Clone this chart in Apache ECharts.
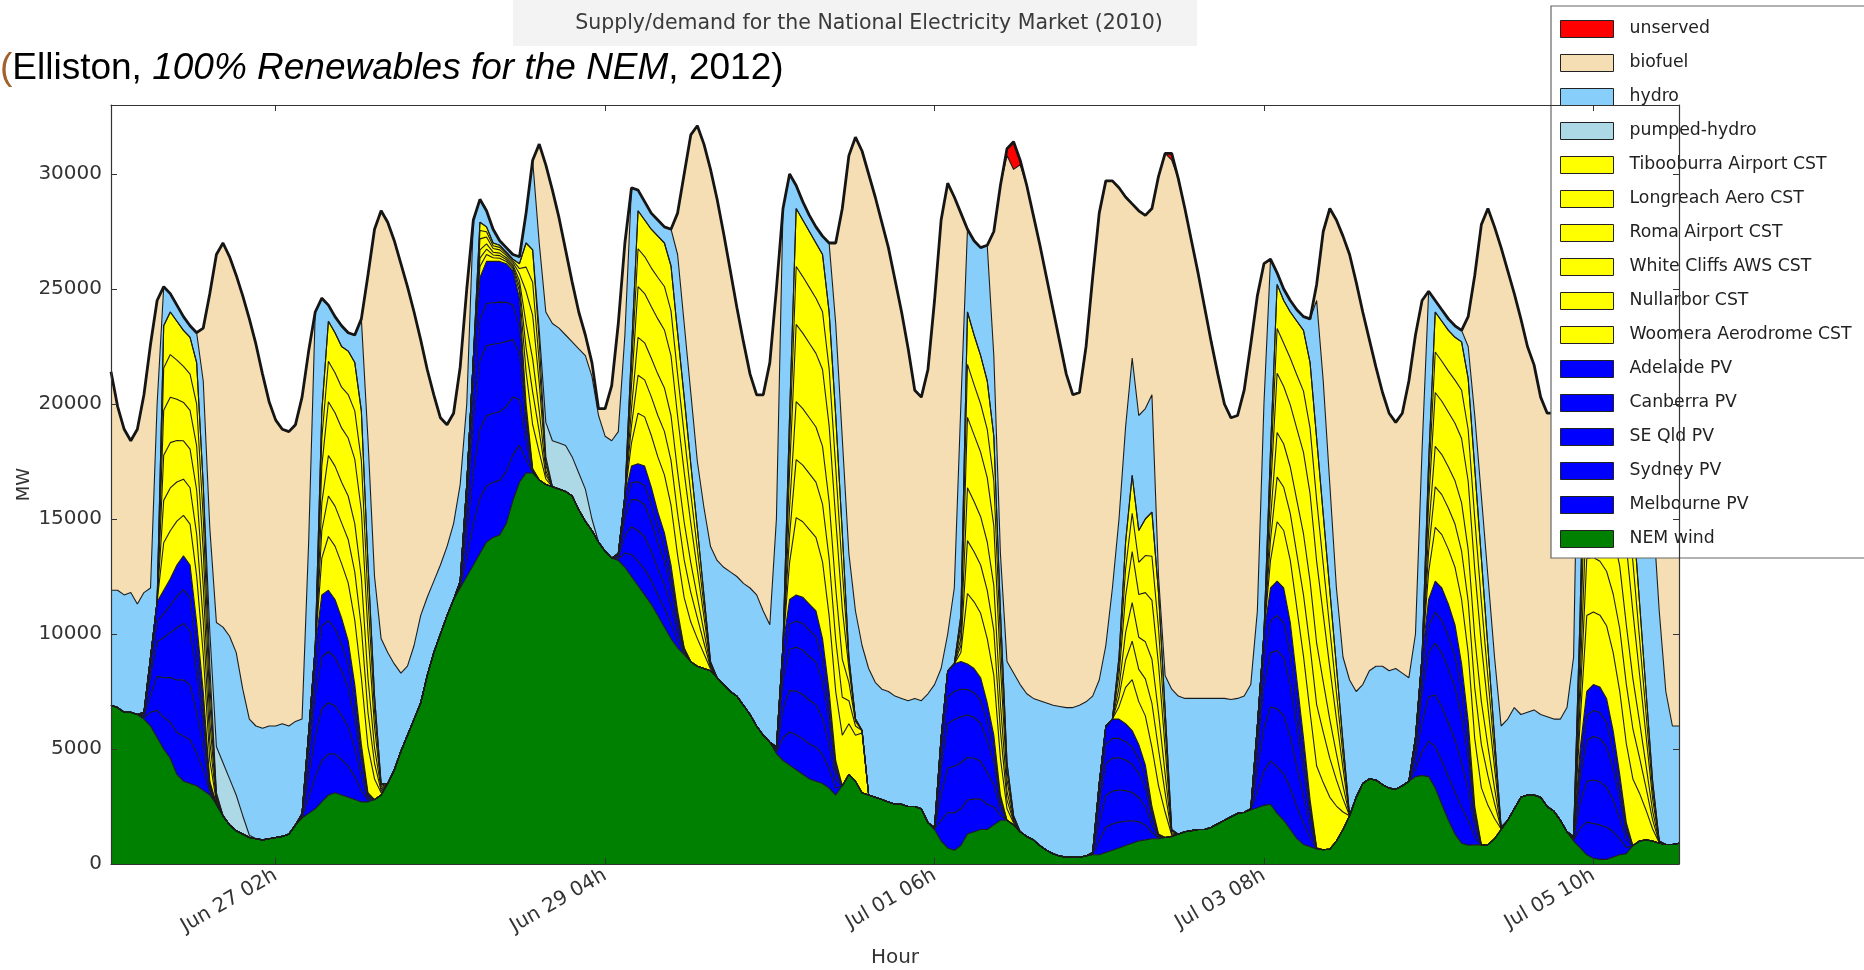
<!DOCTYPE html>
<html><head><meta charset="utf-8">
<script src="https://cdn.jsdelivr.net/npm/echarts@6/dist/echarts.min.js"></script>
<style>html,body{margin:0;padding:0;background:#fff}#c{width:1864px;height:970px}</style>
</head><body><div id="c"></div>
<script>
// ---- x axis ticks (hour index 0 = Jun 26 01h) ----
const tickHours = [25, 75, 125, 175, 225];
const tickLabels = ['Jun 27 02h', 'Jun 29 04h', 'Jul 01 06h', 'Jul 03 08h', 'Jul 05 10h'];

// ---- hourly series (MW) ----
const demand = [
21400,19900,18900,18400,18900,20400,22600,24500,25100,24800,24300,23800,23400,23100,23300,24800,26500,27000,26400,25600,24700,23700,22600,21300,
20100,19300,18900,18800,19100,20300,22300,24000,24600,24300,23800,23400,23100,23000,23700,25600,27600,28400,27900,27100,26100,25100,24000,22800,
21500,20400,19400,19100,19600,21600,25000,28000,28900,28400,27600,27100,26800,26500,26400,28300,30600,31300,30400,29300,28100,26700,25300,24000,
23000,21800,19800,19800,20800,23500,27000,29400,29300,28800,28300,28000,27700,27600,28300,30000,31700,32100,31300,30200,28900,27400,25800,24200,
22700,21300,20400,20400,21800,25000,28500,30000,29500,28800,28200,27700,27300,27000,27000,28500,30800,31600,31000,30000,29000,27900,26800,25400,
24000,22400,20600,20300,21500,24500,28000,29600,29000,28300,27600,27100,26800,26900,27500,29500,31100,31400,30600,29500,28200,26900,25500,24100,
22700,21300,20400,20500,22500,25500,28300,29700,29700,29400,29000,28700,28400,28200,28500,29900,30900,30900,29800,28500,27100,25700,24200,22700,
21300,20000,19400,19500,20600,22600,24700,26100,26300,25700,25000,24500,24100,23800,23700,25200,27500,28500,28000,27300,26500,25300,24000,22800,
21600,20500,19600,19200,19600,21000,23000,24500,24900,24500,24100,23700,23400,23200,23800,25600,27800,28500,27700,26800,25800,24800,23700,22500,
21700,20300,19600,19600,20600,22500,24200,25000,24800,24300,23900,23600,23400,23500,24500,26500,27800,28000,27300,26300,25200,24100,22900];

const nemWind = [
6900,6800,6600,6600,6500,6300,6000,5500,5000,4600,3900,3600,3500,3400,3200,3000,2600,2100,1700,1450,1300,1150,1100,1050,
1100,1150,1200,1300,1700,2000,2200,2400,2700,3000,3100,3000,2900,2800,2700,2700,2800,3000,3500,4100,4900,5600,6300,7000,
8200,9200,10000,10800,11500,12000,12500,13000,13500,14000,14200,14300,14800,15800,16600,17000,17000,16700,16500,16400,16300,16200,16000,15400,
14900,14500,14000,13600,13300,13200,12900,12500,12100,11700,11300,10800,10300,9800,9400,9100,8800,8600,8500,8400,8100,7800,7500,7300,
6900,6500,6000,5600,5300,4800,4500,4300,4100,3900,3700,3600,3500,3300,3000,3400,3900,3600,3100,3000,2900,2800,2700,2600,
2600,2500,2500,2400,1800,1500,1000,700,600,800,1300,1400,1500,1500,1700,1900,1900,1700,1400,1200,1050,800,600,450,
350,300,300,300,350,400,400,500,600,700,800,900,1000,1050,1100,1100,1150,1200,1300,1400,1450,1500,1500,1600,
1750,1900,2050,2200,2250,2350,2450,2550,2600,2200,1900,1500,1100,850,750,650,620,650,1000,1500,2100,2900,3500,3700,
3650,3450,3300,3250,3400,3600,3800,3850,3800,3300,2600,1900,1300,900,820,840,830,840,1100,1500,1900,2400,2900,3000,
3000,2900,2500,2300,1900,1400,1000,700,400,250,200,200,300,400,450,800,1000,1050,1000,900,850,850,900];

const hydro = [
5000,5100,5100,5200,4800,5200,3000,8600,1700,800,700,600,500,1300,4500,4500,5400,5900,6200,6200,5500,5050,4900,4850,
4900,4850,4900,4700,4500,4100,8300,14600,4900,700,700,900,800,1200,4000,5400,5200,6300,5700,4600,3400,3000,3200,3800,
3400,3100,3000,3000,3300,4200,3500,6000,1000,700,600,200,200,200,300,1300,3900,3800,4800,5100,5000,4800,5000,5400,
5800,6200,5500,5000,5100,5300,7000,7100,900,800,700,700,700,1600,3400,3200,3100,2900,3800,5000,5100,5100,5200,5200,
5300,5500,5700,5400,5100,9900,19000,10500,1000,800,700,700,800,3000,4000,4100,4500,4700,3700,5500,5000,4800,4800,4700,
4600,4600,4700,4700,5600,6200,3000,1600,3300,9200,3600,4100,4700,5900,3500,2500,4400,6200,6400,6200,6150,6300,6400,6450,
6500,6500,6500,6600,6700,6800,4500,3500,5700,6000,5000,5100,5000,4800,5100,700,1500,6100,6000,5800,5750,5700,5700,5600,
5450,5300,5100,5000,5050,5400,5000,10000,8300,500,500,500,500,600,1900,6000,5800,4600,3400,3700,5900,4600,4300,4700,
4950,5150,5100,5250,4900,4500,4500,9000,7400,500,500,500,500,500,1400,2300,2700,3100,3500,4400,4400,4400,3600,3600,
3700,3600,3900,4000,4400,5400,7800,14000,800,700,600,600,600,1500,5500,11200,12600,12500,11900,10000,6650,5150,5100];

const biofuel = [
9500,8000,7200,6600,7600,8600,10600,4500,0,0,0,0,0,0,2300,10200,16000,16700,16500,16400,17100,17400,16600,15400,
14100,13300,12800,12800,12900,14000,8300,0,0,0,0,0,0,0,0,7100,15100,18600,18700,18400,17800,16500,14500,12000,
9900,8100,6400,5300,4800,5100,5000,0,0,0,0,0,0,0,0,0,0,4300,6400,5800,4800,3700,2600,1600,
900,600,300,1200,2400,4700,4000,0,0,0,0,0,0,0,1800,6500,11200,14600,15800,16400,15700,14500,13100,11700,
10500,9300,8700,9400,11400,10000,0,0,0,0,0,0,0,0,3500,10000,17300,20600,21500,21500,21100,20300,19300,18100,
16800,15300,13400,13200,14100,16700,19500,19600,17000,8300,0,0,0,0,5400,16000,22000,21900,22600,22100,21000,19800,18500,17200,
15850,14500,13600,13600,15450,18200,20300,20200,17700,14400,10000,6700,8900,8400,8100,17400,22700,23000,22500,21300,19900,18500,17000,15500,
14100,12800,12250,12300,13300,14800,13700,6100,0,0,0,0,0,0,0,700,6500,12000,16000,18300,18500,17800,16200,14400,
13000,11900,11200,10700,11300,12900,13000,6500,0,0,0,0,0,0,1300,6100,11800,16000,18700,20800,19500,18000,17200,15900,
15000,13800,13200,13300,14300,15700,15200,0,0,0,0,0,0,0,0,0,3800,8000,11800,15300,17700,18100,16900];

// ---- sparse series: [first hour, hourly values], zero elsewhere ----
const pumpedHydro = [[15,[1500,2000,2300,2000,1550,800,100]],[65,[500,1500,2000,2000,2000,1700,1600,1400,500]]];
const unserved = [[136,[300,1200,200]],[161,[300]]];

const melbournePV = [
[5,[60,600,1180,1380,1560,1820,1960,1900,1420,880,130]],
[29,[40,700,1400,1800,1780,1680,1540,1360,1000,500,80]],
[53,[60,800,1800,2400,2440,2400,2380,2260,2000,1600,600,40]],
[77,[60,620,960,1060,1120,1020,900,820,640,320,60]],
[101,[60,1000,1440,1520,1540,1520,1480,1260,840,300]],
[125,[20,900,1540,1620,1600,1480,1420,1320,1100,780,220]],
[149,[20,620,1100,1140,1120,1060,980,840,650,280,40]],
[173,[10,710,1490,1880,2020,2020,1800,1380,930,410,10]],
[198,[340,1030,1540,1800,1880,1880,1820,1560,1080,330]],
[222,[40,860,1420,1510,1500,1400,1100,700,270]]];
const sydneyPV = [
[5,[70,750,1480,1720,1950,2280,2450,2380,1780,1080,150]],
[29,[50,880,1750,2250,2230,2100,1930,1700,1250,630,100]],
[53,[80,1000,2250,3000,3050,3000,2980,2830,2500,2000,750,50]],
[77,[80,780,1200,1330,1400,1280,1130,1030,800,400,80]],
[101,[80,1250,1800,1900,1930,1900,1850,1580,1050,380]],
[125,[30,1130,1930,2030,2000,1850,1780,1650,1380,980,280]],
[149,[30,780,1380,1430,1400,1330,1230,1050,810,350,50]],
[173,[10,890,1860,2350,2530,2530,2250,1730,1160,510,10]],
[198,[430,1290,1930,2250,2350,2350,2280,1950,1340,420]],
[222,[50,1080,1780,1890,1880,1750,1380,880,340]]];
const seQldPV = [
[5,[80,800,1500,1750,1950,2270,2450,2350,1720,1000,120]],
[29,[50,880,1750,2250,2230,2100,1930,1700,1250,630,100]],
[53,[80,1000,2250,3000,3050,3000,2980,2830,2500,2000,750,50]],
[77,[80,780,1200,1330,1400,1280,1130,1030,800,400,80]],
[101,[80,1250,1800,1900,1930,1900,1850,1580,1050,380]],
[125,[30,1130,1930,2030,2000,1850,1780,1650,1380,980,280]],
[149,[30,780,1380,1430,1400,1330,1230,1050,810,350,50]],
[173,[10,890,1860,2350,2530,2530,2250,1730,1160,510,10]],
[198,[430,1290,1930,2250,2350,2350,2280,1950,1340,420]],
[222,[50,1080,1780,1890,1880,1750,1380,880,340]]];
const canberraPV = [
[5,[40,450,890,1040,1170,1370,1470,1430,1070,650,90]],
[29,[30,530,1050,1350,1340,1260,1160,1020,750,380,60]],
[53,[40,600,1350,1800,1830,1800,1790,1700,1500,1200,450,30]],
[77,[40,470,720,800,840,770,680,620,480,240,40]],
[101,[40,750,1080,1140,1160,1140,1110,950,630,230]],
[125,[10,680,1160,1220,1200,1110,1070,990,830,590,170]],
[149,[10,470,830,860,840,800,740,630,490,210,30]],
[173,[10,530,1120,1410,1520,1520,1350,1040,700,310,10]],
[198,[250,770,1160,1350,1410,1410,1370,1170,810,250]],
[222,[30,650,1070,1130,1130,1050,830,530,200]]];
const adelaidePV = [
[5,[50,400,850,1010,1170,1360,1470,1440,1110,690,110]],
[29,[30,510,1050,1350,1320,1260,1140,1020,750,360,60]],
[53,[40,600,1350,1800,1830,1800,1770,1680,1500,1200,450,30]],
[77,[40,450,720,780,840,750,660,600,480,240,40]],
[101,[40,750,1080,1140,1140,1140,1110,930,630,210]],
[125,[10,660,1140,1200,1200,1110,1050,990,810,570,150]],
[149,[10,450,810,840,840,780,720,630,490,210,30]],
[173,[10,530,1120,1410,1500,1500,1350,1020,700,310,10]],
[198,[250,770,1140,1350,1410,1410,1350,1170,810,240]],
[222,[30,630,1050,1130,1110,1050,810,510,200]]];

const woomeraCST = [
[8,[2070,2090,1910,1760,1780,2030,1620,900,90]],
[32,[1600,2340,2320,2360,2520,2800,2900,2000,900,100]],
[56,[480,300,160,140,100,100,300,1400,1900,1200,240]],
[79,[1000,2200,2140,2240,2400,2520,2600,2420,2180,1720,1200,640,80]],
[103,[1600,3360,3280,3240,3200,3340,3300,3000,2200,2200,2000,2600]],
[129,[400,3060,2900,2800,2800,2600,1600,500,80]],
[153,[540,1580,2220,1860,2140,2560,2100,1110,60]],
[176,[1200,2580,2500,2700,3120,3540,3800,3560,2920,2250,1520,760]],
[200,[1200,2340,2320,2380,2500,2800,2980,2940,2490,1710,880,20]],
[223,[1200,3300,3160,3120,3160,3400,3620,3440,2900,2080,1290,520,20]]];
const nullarborCST = [
[8,[1840,1860,1700,1570,1580,1810,1440,800,80]],
[32,[1200,1760,1740,1770,1890,2100,2180,1500,680,80]],
[56,[360,230,120,110,80,80,230,1050,1430,900,180]],
[79,[750,1650,1610,1680,1800,1890,1950,1820,1640,1290,900,480,60]],
[103,[1200,2520,2460,2430,2400,2510,2480,2250,1650,1000,400,100]],
[129,[300,2300,2180,2100,2100,1950,1200,380,60]],
[153,[410,1190,1670,1400,1610,1920,1580,830,50]],
[176,[900,1940,1880,2030,2340,2660,2850,2670,2190,1690,1140,570]],
[200,[900,1760,1740,1790,1880,2100,2240,2210,1870,1280,660,20]],
[223,[900,2480,2370,2340,2370,2550,2720,2580,2180,1560,970,390,20]]];
const whiteCliffsCST = [
[8,[1960,1970,1800,1670,1680,1920,1530,850,90]],
[32,[1200,1760,1740,1770,1890,2100,2180,1500,680,80]],
[56,[360,230,120,110,80,80,230,1050,1430,900,180]],
[79,[750,1650,1610,1680,1800,1890,1950,1820,1640,1290,900,480,60]],
[103,[1200,2520,2460,2430,2400,2510,2480,2250,1650,800,200,0]],
[129,[300,2300,2180,2100,2100,1950,1200,380,60]],
[153,[410,1190,1670,1400,1610,1920,1580,830,50]],
[176,[900,1940,1880,2030,2340,2660,2850,2670,2190,1690,1140,570]],
[200,[900,1760,1740,1790,1880,2100,2240,2210,1870,1280,660,20]],
[223,[900,2480,2370,2340,2370,2550,2720,2580,2180,1560,970,390,20]]];
const romaCST = [
[8,[1960,1970,1800,1670,1680,1920,1530,850,80]],
[32,[1600,2340,2320,2360,2520,2800,2900,2000,900,100]],
[56,[480,300,160,140,100,100,300,1400,1900,1200,240]],
[79,[1000,2200,2140,2240,2400,2520,2600,2420,2180,1720,1200,640,80]],
[103,[1600,3360,3280,3240,3200,3340,3300,3000,2200,600,100,0]],
[129,[400,3060,2900,2800,2800,2600,1600,500,80]],
[153,[540,1580,2220,1860,2140,2560,2100,1110,60]],
[176,[1200,2580,2500,2700,3120,3540,3800,3560,2920,2250,1520,760]],
[200,[1200,2340,2320,2380,2500,2800,2980,2940,2490,1710,880,20]],
[223,[1200,3300,3160,3120,3160,3400,3620,3440,2900,2080,1290,520,20]]];
const longreachCST = [
[8,[1840,1860,1700,1570,1580,1810,1440,800,80]],
[32,[1200,1760,1740,1770,1890,2100,2180,1500,680,80]],
[56,[360,230,120,110,80,80,230,1050,1430,900,180]],
[79,[750,1650,1610,1680,1800,1890,1950,1820,1640,1290,900,480,60]],
[103,[1200,2520,2460,2430,2400,2510,2480,2250,1650,300,0,0]],
[129,[300,2300,2180,2100,2100,1950,1200,380,60]],
[153,[410,1190,1670,1400,1610,1920,1580,830,50]],
[176,[900,1940,1880,2030,2340,2660,2850,2670,2190,1690,1140,570]],
[200,[900,1760,1740,1790,1880,2100,2240,2210,1870,1280,660,10]],
[223,[900,2480,2370,2340,2370,2550,2720,2580,2180,1560,970,390,10]]];
const tibooburraCST = [
[8,[1830,1850,1690,1560,1600,1810,1440,800,80]],
[32,[1200,1740,1740,1770,1890,2100,2160,1500,660,60]],
[56,[360,210,120,90,60,60,210,1050,1410,900,180]],
[79,[750,1650,1590,1680,1800,1890,1950,1800,1620,1290,900,480,60]],
[103,[1200,2520,2460,2430,2400,2490,2460,2250,1650,200,0,0]],
[129,[300,2280,2160,2100,2100,1950,1200,360,60]],
[153,[390,1170,1650,1380,1590,1920,1560,840,30]],
[176,[900,1920,1860,2010,2340,2640,2850,2670,2170,1680,1140,570]],
[200,[900,1740,1740,1770,1860,2100,2220,2190,1880,1300,660,10]],
[223,[900,2460,2370,2340,2370,2550,2700,2580,2160,1560,960,390,10]]];

// ---- build ----
const N = demand.length;
function expand(segs){const a=new Array(N).fill(0);segs.forEach(function(s){s[1].forEach(function(v,i){a[s[0]+i]=v;});});return a;}
const cats = demand.map(function(_,i){return String(i);});
const FONT = 'DejaVu Sans';

const layers = [
 ['NEM wind', nemWind, '#008000'],
 ['Melbourne PV', expand(melbournePV), '#0000ff'],
 ['Sydney PV', expand(sydneyPV), '#0000ff'],
 ['SE Qld PV', expand(seQldPV), '#0000ff'],
 ['Canberra PV', expand(canberraPV), '#0000ff'],
 ['Adelaide PV', expand(adelaidePV), '#0000ff'],
 ['Woomera Aerodrome CST', expand(woomeraCST), '#ffff00'],
 ['Nullarbor CST', expand(nullarborCST), '#ffff00'],
 ['White Cliffs AWS CST', expand(whiteCliffsCST), '#ffff00'],
 ['Roma Airport CST', expand(romaCST), '#ffff00'],
 ['Longreach Aero CST', expand(longreachCST), '#ffff00'],
 ['Tibooburra Airport CST', expand(tibooburraCST), '#ffff00'],
 ['pumped-hydro', expand(pumpedHydro), '#add8e6'],
 ['hydro', hydro, '#87cefa'],
 ['biofuel', biofuel, '#f5deb3'],
 ['unserved', expand(unserved), '#ff0000']
];

const series = layers.map(function(l){
  return {name:l[0], type:'line', stack:'supply', data:l[1], symbol:'none', showSymbol:false,
    color:l[2], itemStyle:{color:l[2]}, lineStyle:{color:'#1c1c1c', width:1.1},
    areaStyle:{color:l[2], opacity:1}, emphasis:{disabled:true}, silent:true};
});
series.push({name:'demand', type:'line', data:demand, symbol:'none', showSymbol:false,
  lineStyle:{color:'#151515', width:2.8}, z:5, emphasis:{disabled:true}, silent:true});

const legendOrder = layers.map(function(l){return l[0];}).reverse();
function isTick(i){return tickHours.indexOf(i) >= 0;}

const chart = echarts.init(document.getElementById('c'), null, {renderer:'canvas'});
chart.setOption({
  animation:false,
  backgroundColor:'#ffffff',
  grid:{left:111, right:185, top:105, bottom:106, containLabel:false, outerBoundsMode:'none'},
  xAxis:[{
    type:'category', data:cats, boundaryGap:false, position:'bottom', z:10,
    name:'Hour', nameLocation:'middle', nameGap:84, nameMoveOverlap:false,
    nameTextStyle:{fontFamily:FONT, fontSize:20, color:'#333'},
    axisLine:{show:true, onZero:false, lineStyle:{color:'#333', width:1.2}},
    axisTick:{show:true, inside:true, length:6, interval:function(i){return isTick(i);}, lineStyle:{color:'#333'}},
    axisLabel:{show:true, interval:function(i){return isTick(i);}, rotate:30, margin:10,
      fontFamily:FONT, fontSize:20, color:'#333',
      formatter:function(v){return tickLabels[tickHours.indexOf(Number(v))];}},
    splitLine:{show:false}
  },{
    type:'category', data:cats, boundaryGap:false, position:'top', z:10,
    axisLine:{show:true, onZero:false, lineStyle:{color:'#333', width:1.2}},
    axisTick:{show:true, inside:true, length:6, interval:function(i){return isTick(i);}, lineStyle:{color:'#333'}},
    axisLabel:{show:false}, splitLine:{show:false}
  }],
  yAxis:[{
    type:'value', min:0, max:33000, interval:5000, position:'left', z:10,
    name:'MW', nameLocation:'middle', nameGap:78, nameRotate:90, nameMoveOverlap:false,
    nameTextStyle:{fontFamily:FONT, fontSize:18, color:'#333'},
    axisLine:{show:true, onZero:false, lineStyle:{color:'#333', width:1.2}},
    axisTick:{show:true, inside:true, length:6, lineStyle:{color:'#333'}},
    axisLabel:{fontFamily:FONT, fontSize:20, color:'#333', margin:9,
      formatter:function(v){return v > 30000 ? '' : String(v);}},
    splitLine:{show:false}
  },{
    type:'value', min:0, max:33000, interval:5000, position:'right', z:10,
    axisLine:{show:true, onZero:false, lineStyle:{color:'#333', width:1.2}},
    axisTick:{show:true, inside:true, length:6, lineStyle:{color:'#333'}},
    axisLabel:{show:false}, splitLine:{show:false}
  }],
  legend:{
    data:legendOrder, orient:'vertical', left:1551, top:6,
    itemWidth:53, itemHeight:17, itemGap:16, icon:'rect',
    padding:[14, 60, 10, 9], backgroundColor:'#ffffff', borderColor:'#666', borderWidth:1.2,
    itemStyle:{borderColor:'#222', borderWidth:1},
    textStyle:{fontFamily:FONT, fontSize:17.3, color:'#222', padding:[0,0,0,11]},
    selectedMode:false, z:10
  },
  graphic:[
    {type:'rect', left:513, top:0, shape:{width:684, height:46}, style:{fill:'#f3f3f3'}, z:-1, silent:true},
    {type:'text', x:869, y:24, style:{text:'Supply/demand for the National Electricity Market (2010)',
      font:'20.5px "DejaVu Sans"', fill:'#3a3a3a', align:'center', verticalAlign:'middle'}, silent:true},
    {type:'text', x:0, y:69, silent:true, style:{
      text:'{p|(}{n|Elliston, }{i|100% Renewables for the NEM}{n|, 2012)}',
      verticalAlign:'middle',
      rich:{
        p:{font:'37px "Liberation Sans"', fill:'#a0612a'},
        n:{font:'37px "Liberation Sans"', fill:'#000'},
        i:{font:'italic 37px "Liberation Sans"', fill:'#000'}
      }}}
  ],
  series:series
});
</script>
</body></html>
